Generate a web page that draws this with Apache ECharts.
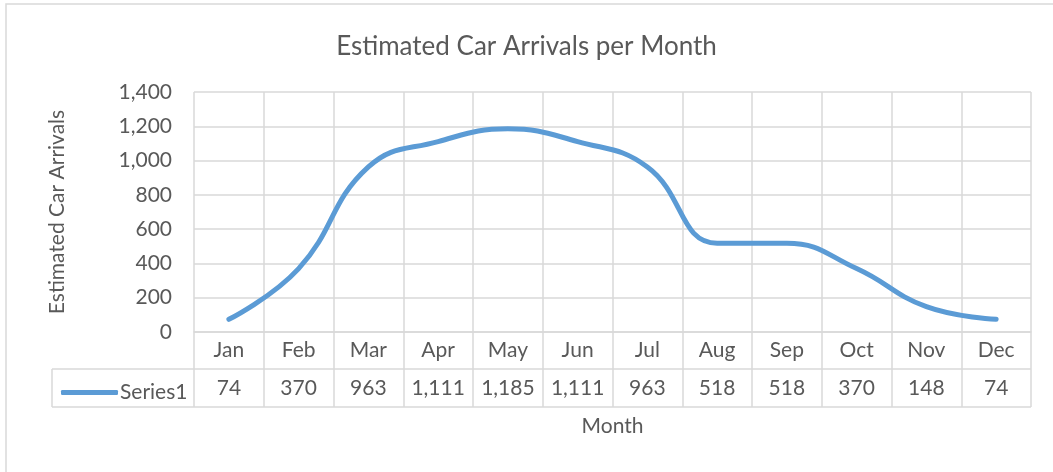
<!DOCTYPE html>
<html>
<head>
<meta charset="utf-8">
<script src="https://cdn.jsdelivr.net/npm/echarts@6/dist/echarts.min.js"></script>
<style>html,body{margin:0;padding:0;background:#fff}#c{width:1053px;height:472px}</style>
</head>
<body>
<div id="c"></div>
<script>
const months = ['Jan','Feb','Mar','Apr','May','Jun','Jul','Aug','Sep','Oct','Nov','Dec'];
const series1 = [74, 370, 963, 1111, 1185, 1111, 963, 518, 518, 370, 148, 74];
const yTicks = { min: 0, max: 1400, interval: 200 };
const seriesName = 'Series1';

const fmt = v => Number(v).toLocaleString('en-US');
const gray = '#595959';
const lineGray = '#d9d9d9';
const font = 'Lato, "Open Sans", sans-serif';

const chart = echarts.init(document.getElementById('c'));
const gL = 194, gR = 1031, gT = 92, gB = 332;
const option = {
  animation: false,
  backgroundColor: '#fff',
  title: {
    text: 'Estimated Car Arrivals per Month',
    left: 'center', top: 29,
    textStyle: { color: gray, fontSize: 26, fontWeight: 'normal', fontFamily: font }
  },
  legend: {
    data: [seriesName],
    left: 56, top: 377,
    itemWidth: 57, itemHeight: 5, itemGap: 4,
    icon: 'roundRect',
    textStyle: { color: gray, fontSize: 21, fontFamily: font, padding: [0,0,0,-3] }
  },
  grid: { left: gL, right: 1053 - gR, top: gT, bottom: 472 - gB },
  xAxis: [
    {
      type: 'category', data: months, boundaryGap: true, position: 'bottom',
      axisLine: { show: true, lineStyle: { color: lineGray, width: 1.5 } },
      axisTick: { show: true, length: 75, lineStyle: { color: lineGray, width: 1.5 } },
      splitLine: { show: true, lineStyle: { color: lineGray, width: 1.5 } },
      axisLabel: { color: gray, fontSize: 21, fontFamily: font, margin: 8 }
    },
    {
      type: 'category', data: months, boundaryGap: true, position: 'bottom', offset: 37,
      axisLine: { show: false }, axisTick: { show: false },
      axisLabel: { color: gray, fontSize: 21, fontFamily: font, margin: 9,
        formatter: (v, i) => fmt(series1[i]) },
      name: 'Month', nameLocation: 'middle', nameGap: 47,
      nameTextStyle: { color: gray, fontSize: 21, fontFamily: font }
    }
  ],
  yAxis: {
    type: 'value', min: yTicks.min, max: yTicks.max, interval: yTicks.interval,
    axisLine: { show: false }, axisTick: { show: false },
    splitLine: { show: true, lineStyle: { color: lineGray, width: 1.5 } },
    axisLabel: { color: gray, fontSize: 21, fontFamily: font, margin: 22, formatter: v => fmt(v) },
    name: 'Estimated Car Arrivals', nameLocation: 'middle', nameGap: 126,
    nameTextStyle: { color: gray, fontSize: 21, fontFamily: font }
  },
  series: [{
    name: seriesName, type: 'line', data: series1, xAxisIndex: 0,
    smooth: 0.45, showSymbol: false, symbol: 'none',
    lineStyle: { color: '#5b9bd5', width: 5, cap: 'round' },
    itemStyle: { color: '#5b9bd5' }
  }],
  graphic: [
    { type: 'rect', silent: true, z: -1, shape: { x: 6, y: 4, width: 1200, height: 600 },
      style: { fill: 'none', stroke: '#d9d9d9', lineWidth: 1.5 } },
    { type: 'line', silent: true, shape: { x1: 52, y1: 369, x2: gR, y2: 369 },
      style: { stroke: lineGray, lineWidth: 1.5 } },
    { type: 'line', silent: true, shape: { x1: 52, y1: 407, x2: gR, y2: 407 },
      style: { stroke: lineGray, lineWidth: 1.5 } },
    { type: 'line', silent: true, shape: { x1: 52, y1: 369, x2: 52, y2: 407 },
      style: { stroke: lineGray, lineWidth: 1.5 } }
  ]
};
chart.setOption(option);
</script>
</body>
</html>
